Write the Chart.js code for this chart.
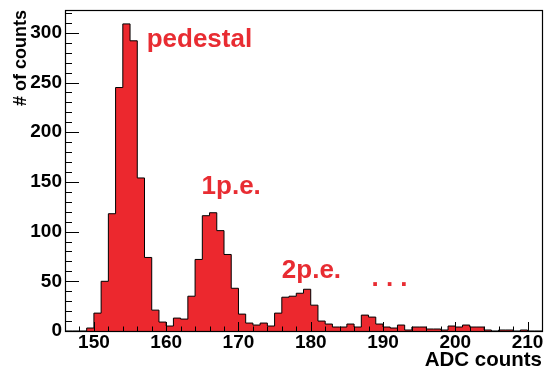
<!DOCTYPE html>
<html><head><meta charset="utf-8">
<script src="https://cdn.jsdelivr.net/npm/chart.js@4/dist/chart.umd.min.js"></script>
<style>html,body{margin:0;padding:0;background:#fff;}#wrap{width:545px;height:372px;position:relative;}</style>
</head><body><div id="wrap"><canvas id="c"></canvas></div>
<script>
// Histogram bins (lower edge of each 1-count-wide ADC bin)
const binLowEdges = [146,147,148,149,150,151,152,153,154,155,156,157,158,159,160,161,162,163,164,165,166,167,168,169,170,171,172,173,174,175,176,177,178,179,180,181,182,183,184,185,186,187,188,189,190,191,192,193,194,195,196,197,198,199,200,201,202,203,204,205,206,207,208,209,210,211];
const counts      = [0,0,0,3,18,50,118,245,309,292,154,74,21,9,5,13,12,35,72,116,119,101,77,43,17,8,6,8,5,18,34,35,38,42,26,10,7,4,4,7,4,16,14,7,4,3,6,1,4,4,2,2,1,5,4,6,4,4,1,0,1,1,0,1,0,0];
const xUpperEdge = 212;
const xTickValues = [150,160,170,180,190,200,210];
const yTickValues = [0,50,100,150,200,250,300];
const xMin = 146, xMax = 212, yMin = 0, yMax = 323;
const peakLabels = ['pedestal','1p.e.','2p.e.','. . .'];
const peakLabelX = [157.3,164.9,176.0,188.4];
const peakLabelY = [286,137.6,53,45];

const RED = 'rgb(236,40,46)';
const FONT = "'Liberation Sans', Arial, Helvetica, sans-serif";

const stepPoints = binLowEdges.map((x,i)=>({x:x,y:counts[i]}));
stepPoints.push({x:xUpperEdge,y:0});

const frameAndTicks = {
  id:'frameAndTicks',
  afterDatasetsDraw(chart){
    const ctx = chart.ctx, a = chart.chartArea;
    const xs = chart.scales.x, ys = chart.scales.y;
    ctx.save();
    ctx.strokeStyle = '#000';
    ctx.lineWidth = 1;
    ctx.beginPath();
    for (let v = xMin; v <= xMax; v += 2) {
      const px = Math.round(xs.getPixelForValue(v)) + 0.5;
      const len = (v % 10 === 0) ? 9 : 4.5;
      ctx.moveTo(px, a.bottom); ctx.lineTo(px, a.bottom - len);
    }
    for (let v = 0; v <= yMax; v += 10) {
      const py = Math.round(ys.getPixelForValue(v)) + 0.5;
      const len = (v % 50 === 0) ? 14 : 7;
      ctx.moveTo(a.left, py); ctx.lineTo(a.left + len, py);
    }
    ctx.stroke();
    ctx.lineWidth = 1.2;
    ctx.strokeRect(Math.round(a.left)+0.5, Math.round(a.top)+0.5, Math.round(a.right-a.left), Math.round(a.bottom-a.top));
    ctx.fillStyle = 'rgb(232,44,50)';
    ctx.font = 'bold 26px ' + FONT;
    ctx.textAlign = 'left';
    ctx.textBaseline = 'alphabetic';
    peakLabels.forEach((t,i)=>{
      ctx.fillText(t, xs.getPixelForValue(peakLabelX[i]), ys.getPixelForValue(peakLabelY[i]));
    });
    ctx.restore();
  }
};

new Chart(document.getElementById('c'), {
  type:'line',
  data:{ datasets:[{
    label:'ADC counts',
    data: stepPoints,
    stepped: 'before',
    fill: 'origin',
    backgroundColor: RED,
    borderColor: '#000',
    borderWidth: 1,
    pointRadius: 0,
    tension: 0
  }]},
  options:{
    responsive:true, maintainAspectRatio:false, animation:false,
    devicePixelRatio:1,
    layout:{padding:{top:10,right:3,left:0,bottom:0}},
    plugins:{legend:{display:false}, tooltip:{enabled:false}},
    scales:{
      x:{type:'linear', min:xMin, max:xMax,
        afterBuildTicks:s=>{ s.ticks = xTickValues.map(v=>({value:v})); },
        grid:{display:false, drawTicks:false}, border:{display:false},
        ticks:{font:{family:FONT,size:19,weight:'bold'}, color:'#000', padding:0, maxRotation:0, autoSkip:false},
        title:{display:true, text:'ADC counts', align:'end', color:'#000', font:{family:FONT,size:20.5,weight:'bold'}, padding:{top:0,bottom:-1}},
        afterFit:s=>{ s.height = 41; s.paddingLeft = 0; s.paddingRight = 0; }
      },
      y:{type:'linear', min:yMin, max:yMax,
        afterBuildTicks:s=>{ s.ticks = yTickValues.map(v=>({value:v})); },
        grid:{display:false, drawTicks:false}, border:{display:false},
        ticks:{font:{family:FONT,size:19,weight:'bold'}, color:'#000', padding:3, autoSkip:false},
        title:{display:true, text:'# of counts', align:'end', color:'#000', font:{family:FONT,size:18,weight:'bold'}, padding:{top:10,bottom:0}},
        afterFit:s=>{ s.width = 65; s.paddingTop = 0; s.paddingBottom = 0; }
      }
    }
  },
  plugins:[frameAndTicks]
});
</script>
</body></html>
